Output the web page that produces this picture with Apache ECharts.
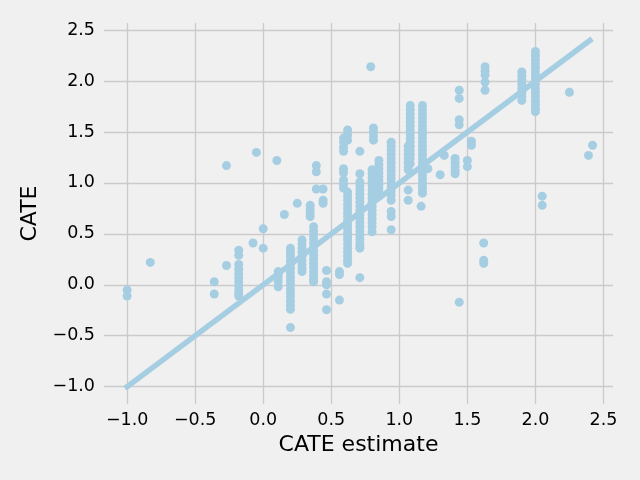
<!DOCTYPE html>
<html>
<head>
<meta charset="UTF-8">
<title>CATE</title>
<style>
    html,body{margin:0;padding:0;width:100%;height:100%;background:#f0f0f0;}
    #wrap{width:640px;height:480px;}
</style>
</head>
<body>
<div id="wrap"></div>
<script src="https://cdn.jsdelivr.net/npm/echarts@6/dist/echarts.min.js"></script>
<script>
// estimated CATE (x) for each column of points, and the true CATE values (y) in it
let groupX = [-1.0, -0.83, -0.36, -0.27, -0.18, -0.075, -0.05, 0.0, 0.10, 0.11,
              0.155, 0.20, 0.25, 0.285, 0.345, 0.37, 0.39, 0.44, 0.465, 0.56,
              0.59, 0.62, 0.71, 0.79, 0.81, 0.80, 0.85, 0.94, 1.065, 1.08,
              1.17, 1.16, 1.21, 1.30, 1.33, 1.41, 1.44, 1.50, 1.53, 1.62,
              1.63, 1.90, 2.0, 2.05, 2.25, 2.39, 2.42];
let groupY = [
    [-0.05, -0.11],
    [0.22],
    [0.03, -0.09],
    [1.17, 0.19],
    [0.34, 0.29, 0.20, 0.15, 0.11, 0.07, 0.03, -0.01, -0.05, -0.09, -0.11],
    [0.41],
    [1.30],
    [0.55, 0.36],
    [1.22],
    [0.13, 0.10, 0.07, 0.03, -0.02],
    [0.69],
    [0.36, 0.32, 0.28, 0.24, 0.20, 0.16, 0.12, 0.08, 0.04, 0.0, -0.04, -0.08, -0.12, -0.16, -0.20, -0.24, -0.42],
    [0.80],
    [0.44, 0.40, 0.36, 0.32, 0.28, 0.24, 0.20, 0.16, 0.13],
    [0.78, 0.74, 0.70, 0.67],
    [0.57, 0.53, 0.49, 0.45, 0.41, 0.37, 0.33, 0.29, 0.25, 0.21, 0.17, 0.13, 0.09, 0.05, 0.03],
    [1.17, 1.11, 0.94],
    [0.94, 0.83, 0.80],
    [0.14, 0.03, 0.00, -0.09, -0.245],
    [0.13, 0.10, -0.15],
    [1.44, 1.40, 1.35, 1.31, 1.14, 1.10, 1.03, 0.99, 0.95],
    [1.52, 1.47, 1.42, 0.91, 0.87, 0.83, 0.79, 0.75, 0.71, 0.67, 0.63, 0.59, 0.55, 0.51, 0.47, 0.44, 0.40, 0.36, 0.32, 0.28, 0.24, 0.21],
    [1.31, 1.09, 1.01, 0.97, 0.93, 0.89, 0.85, 0.81, 0.77, 0.73, 0.69, 0.65, 0.61, 0.57, 0.53, 0.49, 0.45, 0.41, 0.38, 0.36, 0.07],
    [2.14],
    [1.54, 1.50, 1.46, 1.42],
    [1.13, 1.09, 1.05, 1.01, 0.97, 0.93, 0.89, 0.85, 0.81, 0.77, 0.73, 0.69, 0.65, 0.61, 0.57, 0.52],
    [1.22, 1.18, 1.14, 1.10, 1.06, 1.02, 0.98, 0.94, 0.90, 0.87],
    [1.40, 1.36, 1.32, 1.28, 1.24, 1.20, 1.16, 1.12, 1.08, 1.04, 1.00, 0.96, 0.92, 0.88, 0.83, 0.72, 0.67, 0.54],
    [1.36, 1.32, 1.28, 1.24, 1.20, 1.16, 1.13, 0.93, 0.83],
    [1.76, 1.72, 1.68, 1.64, 1.60, 1.56, 1.52, 1.48, 1.44, 1.40, 1.36, 1.32, 1.28, 1.24, 1.19],
    [1.76, 1.72, 1.68, 1.64, 1.60, 1.56, 1.52, 1.48, 1.44, 1.40, 1.36, 1.32, 1.28, 1.24, 1.20, 1.16, 1.12, 1.08, 1.04, 1.00, 0.96, 0.93, 0.90],
    [0.77],
    [1.14],
    [1.08],
    [1.27],
    [1.24, 1.20, 1.16, 1.12, 1.09],
    [1.91, 1.83, 1.62, 1.57, -0.17],
    [1.22, 1.16],
    [1.41, 1.37],
    [0.41, 0.24, 0.21],
    [2.14, 2.10, 2.06, 1.99, 1.91],
    [2.09, 2.05, 2.01, 1.97, 1.93, 1.89, 1.85, 1.81],
    [2.29, 2.25, 2.21, 2.17, 2.13, 2.09, 2.05, 2.01, 1.97, 1.93, 1.89, 1.85, 1.81, 1.77, 1.73, 1.70],
    [0.87, 0.78],
    [1.89],
    [1.27],
    [1.37]
];
let lineX = [-1.0, 2.4];
let lineY = [-1.0, 2.4];
let xTicks = [-1.0, -0.5, 0.0, 0.5, 1.0, 1.5, 2.0, 2.5];
let yTicks = [-1.0, -0.5, 0.0, 0.5, 1.0, 1.5, 2.0, 2.5];

let points = [];
for (let i = 0; i < groupX.length; i++) {
    for (let j = 0; j < groupY[i].length; j++) {
        points.push([groupX[i], groupY[i][j]]);
    }
}
let line = lineX.map((x, i) => [x, lineY[i]]);

let fmt = v => v.toFixed(1).replace('-', '\u2212');
let font = 'DejaVu Sans';
let blue = '#a6cee3';

let mycharts = echarts.init(document.getElementById('wrap'));
mycharts.setOption({
    backgroundColor: '#f0f0f0',
    animation: false,
    grid: {left: 104, right: 27, top: 23, bottom: 76},
    xAxis: {
        type: 'value',
        min: -1.17, max: 2.57,
        name: 'CATE estimate',
        nameLocation: 'middle',
        nameGap: 30,
        nameTextStyle: {fontFamily: font, fontSize: 22, color: '#000'},
        axisLine: {show: false},
        axisTick: {show: false, customValues: xTicks},
        axisLabel: {customValues: xTicks, formatter: fmt, margin: 7,
                    fontFamily: font, fontSize: 17.5, color: '#000'},
        splitLine: {show: true, lineStyle: {color: '#cbcbcb', width: 1.3}}
    },
    yAxis: {
        type: 'value',
        min: -1.17, max: 2.57,
        name: 'CATE',
        nameLocation: 'middle',
        nameGap: 62,
        nameTextStyle: {fontFamily: font, fontSize: 22, color: '#000'},
        axisLine: {show: false},
        axisTick: {show: false, customValues: yTicks},
        axisLabel: {customValues: yTicks, formatter: fmt, margin: 9,
                    fontFamily: font, fontSize: 17.5, color: '#000'},
        splitLine: {show: true, lineStyle: {color: '#cbcbcb', width: 1.3}}
    },
    series: [
        {
            type: 'scatter',
            data: points,
            symbolSize: 9,
            itemStyle: {color: blue, opacity: 1}
        },
        {
            type: 'line',
            data: line,
            showSymbol: false,
            lineStyle: {color: blue, width: 5.6, cap: 'square'}
        }
    ]
});
</script>
</body>
</html>
